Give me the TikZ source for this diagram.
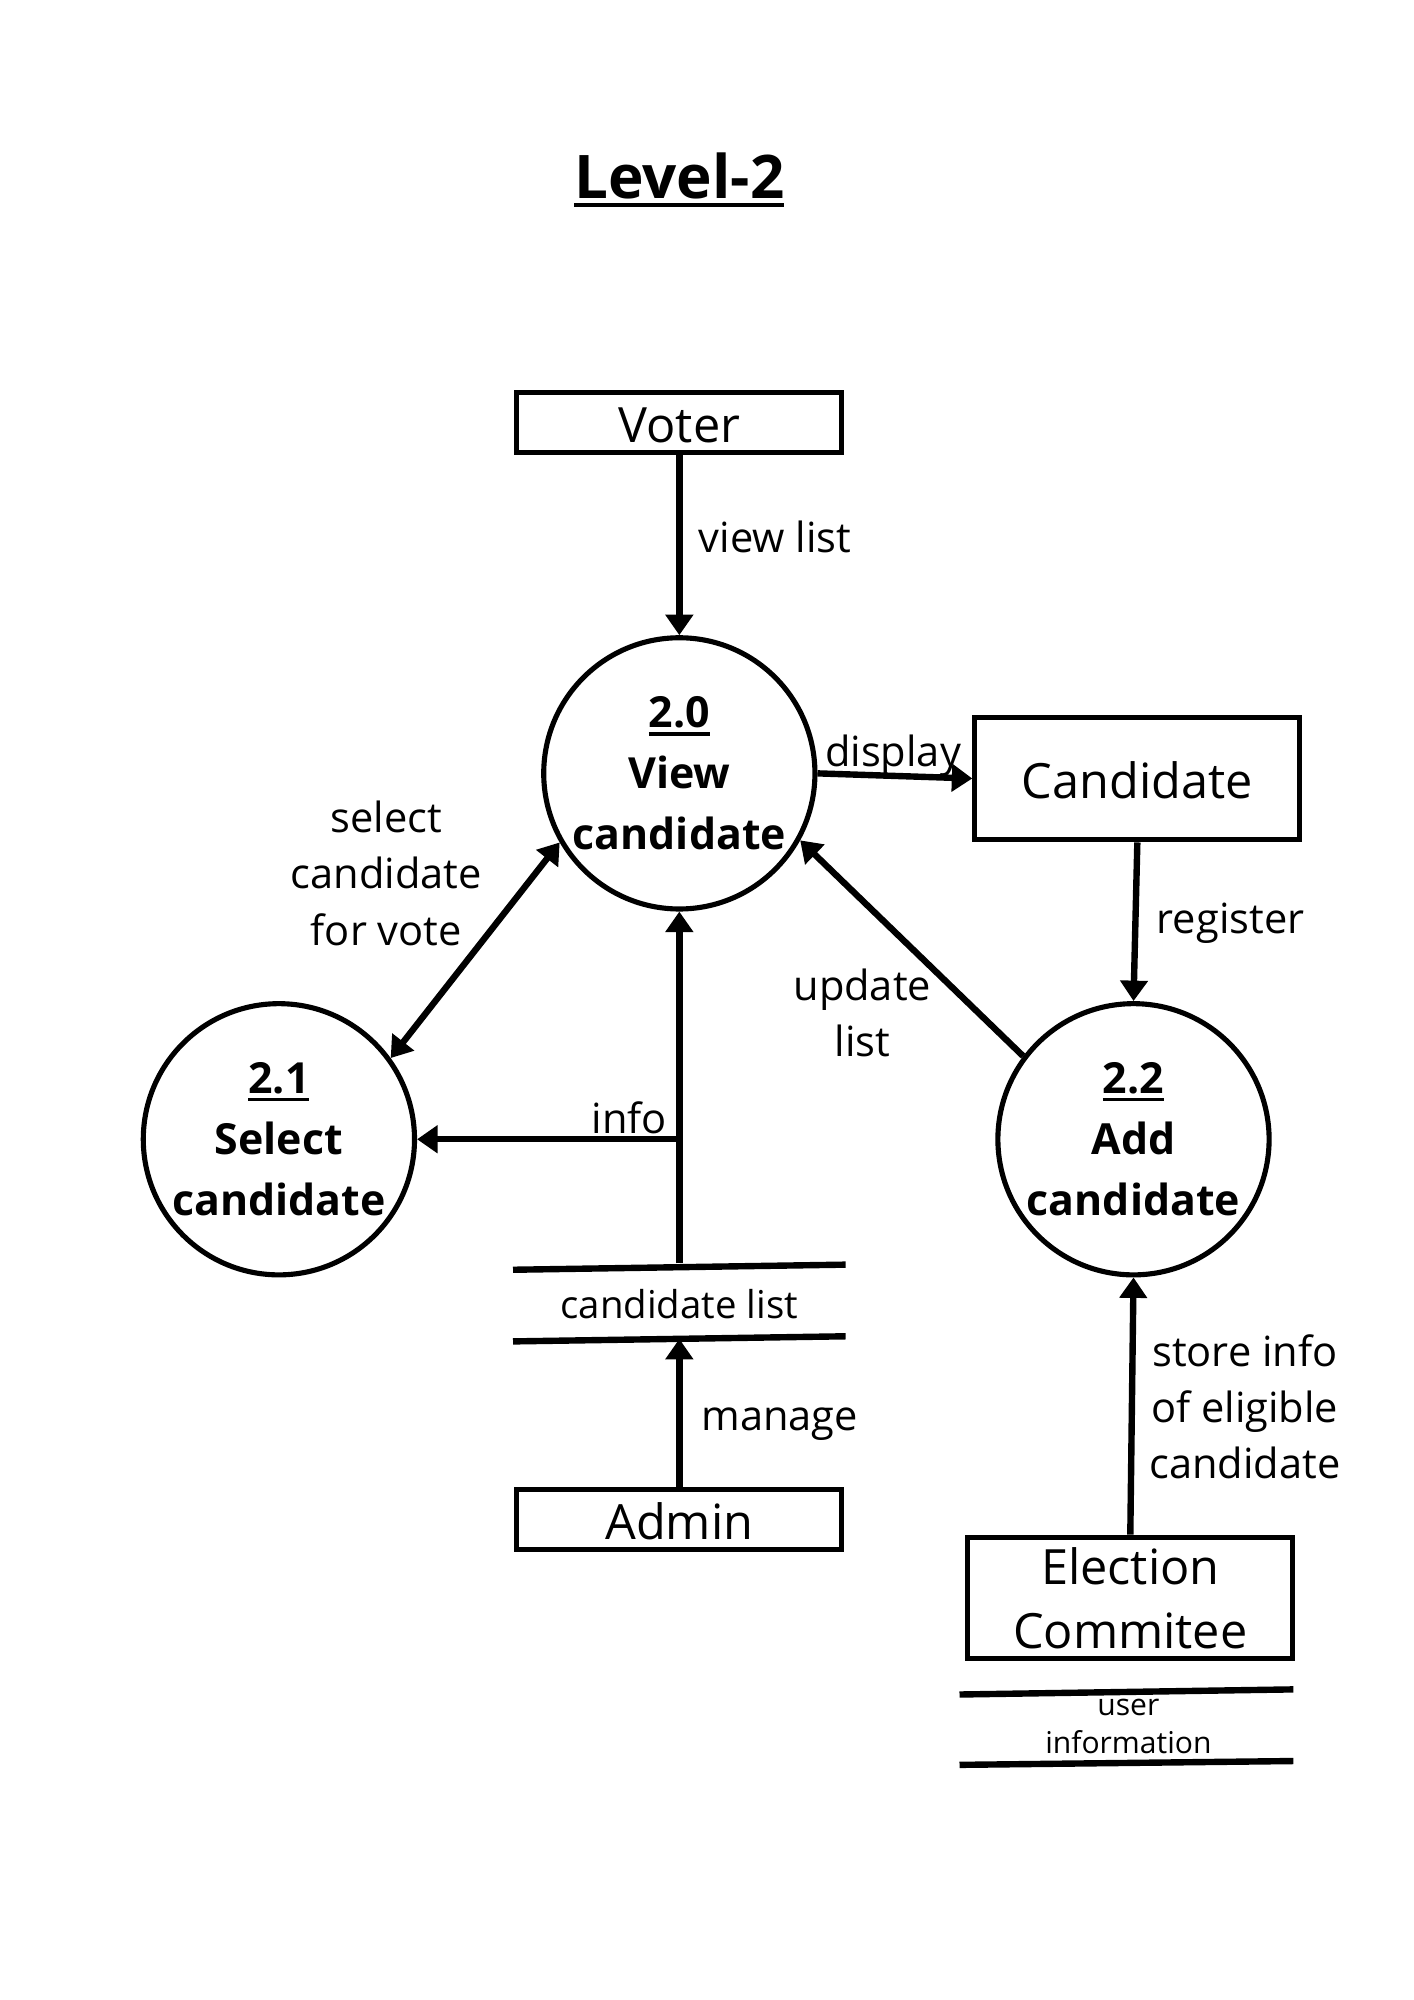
\documentclass[tikz,border=0pt]{standalone}
\usepackage{fontspec}
\setmainfont{Open Sans}
\usetikzlibrary{arrows.meta}
\newcommand\myul[3]{\setbox0\hbox{#3}\rlap{\copy0}\rule[-#1]{\wd0}{#2}}
\begin{document}
\begin{tikzpicture}[x=1pt,y=-1pt,
  every node/.style={inner sep=0pt},
  box/.style={draw, line width=4pt, minimum width=254pt, font=\fontsize{38}{50}\selectfont, align=center},
  onebox/.style={box, text height=31pt, text depth=0pt},
  proc/.style={draw, circle, line width=4pt, minimum size=212pt, font=\fontsize{33.5}{47.5}\selectfont\bfseries, align=center},
  tip/.tip={Triangle[length=16pt,width=21pt]},
  flow/.style={line width=5pt, -tip},
  bflow/.style={line width=5pt, tip-tip},
  lbl/.style={font=\fontsize{32.5}{44}\selectfont, align=center},
  storetxt/.style={font=\fontsize{30}{30}\selectfont, align=center},
  storeline/.style={line width=5pt}
]
\useasboundingbox (2,2.5) rectangle (1107,1565.8);
\fill[white] (2,2.5) rectangle (1107,1565.8);

% title
\node[font=\fontsize{47}{50}\selectfont\bfseries, anchor=base] (title) at (533,158) {\myul{6.5pt}{3.5pt}{Level-2}};

% external entities
\node[onebox, minimum height=47pt] (voter) at (533,333) {Voter};
\node[onebox, minimum height=96pt] (cand) at (891,611) {Candidate};
\node[onebox, minimum height=47pt] (admin) at (533,1190) {Admin};
\node[box, minimum height=95pt] (elec) at (885.5,1251.5) {Election\\Commitee};

% processes
\node[proc] (v20) at (533,607) {\myul{6pt}{3pt}{2.0}\\View\\candidate};
\node[proc] (v21) at (220,893) {\myul{6pt}{3pt}{2.1}\\Select\\candidate};
\node[proc] (v22) at (888,893) {\myul{6pt}{3pt}{2.2}\\Add\\candidate};

% data store: candidate list
\draw[storeline] (403,995) -- (663,991);
\draw[storeline] (403,1051) -- (663,1047);
\node[storetxt] (clist) at (533,1022) {candidate list};
\coordinate (clistTop) at (533,990);
\coordinate (clistBot) at (533,1049);
\coordinate (junc) at (533,893);

% data store: user information
\draw[storeline] (752,1327) -- (1013,1323);
\draw[storeline] (752,1382) -- (1013,1379);
\node[font=\fontsize{23.5}{30}\selectfont, align=center] (uinfo) at (884,1352) {user\\information};

% flows
\draw[flow] (voter.south) -- (v20.north);
\draw[flow] (v20.east) -- (cand.west);
\draw[flow] (cand.south) -- (v22.north);
\draw[flow] (v22.143) -- (v20.331);
\draw[bflow] (v21.36) -- (v20.210);
\draw[flow] (clistTop) -- (v20.south);
\draw[flow] (junc) -- (v21.east);
\draw[flow] (admin.north) -- (clistBot);
\draw[flow] (elec.north) -- (v22.south);

% labels
\node[lbl, anchor=west] (lview) at (548,422) {view list};
\node[lbl] (ldisp) at (700,593) {display};
\node[lbl, anchor=west] (lreg) at (906,724) {register};
\node[lbl] (lupd) at (676,794) {update\\list};
\node[lbl] (lsel) at (304,685) {select\\candidate\\for vote};
\node[lbl] (linfo) at (494,876) {info};
\node[lbl, anchor=west] (lman) at (550,1116) {manage};
\node[lbl] (lstore) at (975,1102) {store info\\of eligible\\candidate};
\end{tikzpicture}
\end{document}
